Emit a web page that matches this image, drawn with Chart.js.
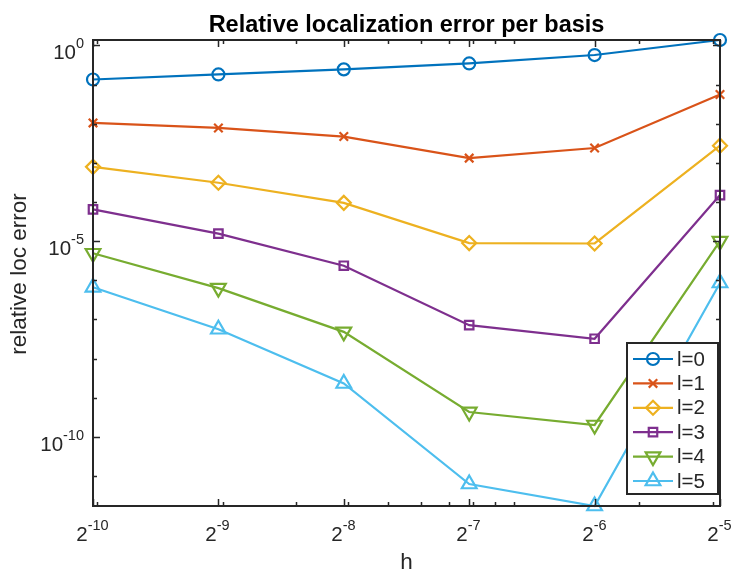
<!DOCTYPE html>
<html>
<head>
<meta charset="utf-8">
<script src="https://cdn.jsdelivr.net/npm/chart.js@4.4.1/dist/chart.umd.min.js"></script>
<style>
html, body { margin: 0; padding: 0; background: #fff; }
#wrap { width: 733px; height: 570px; position: relative; }
</style>
</head>
<body>
<div id="wrap"><canvas id="locChart"></canvas></div>
<script>
// x: mesh size h, y: relative localization error, one series per level l
const hValues = [0.0009765625, 0.001953125, 0.00390625, 0.0078125, 0.015625, 0.03125]
const hTickLabels = [['2', '-10'], ['2', '-9'], ['2', '-8'], ['2', '-7'], ['2', '-6'], ['2', '-5']]
const seriesNames = ['l=0', 'l=1', 'l=2', 'l=3', 'l=4', 'l=5']
const errL0 = [1.35e-1, 1.82e-1, 2.45e-1, 3.47e-1, 5.7e-1, 1.38]
const errL1 = [1.05e-2, 7.8e-3, 4.7e-3, 1.32e-3, 2.4e-3, 5.6e-2]
const errL2 = [7.9e-4, 3.1e-4, 9.5e-5, 8.9e-6, 8.7e-6, 2.75e-3]
const errL3 = [6.5e-5, 1.55e-5, 2.35e-6, 7.1e-8, 3.2e-8, 1.5e-4]
const errL4 = [4.9e-6, 6.3e-7, 4.8e-8, 4.3e-10, 2.0e-10, 1.0e-5]
const errL5 = [6.6e-7, 5.6e-8, 2.3e-9, 6.2e-12, 1.7e-12, 8.5e-7]
const yLabeledExponents = [0, -5, -10]

const FONT = "'Liberation Sans', Arial, Helvetica, sans-serif"
const AXIS_COLOR = '#262626'
const colors = ['#0072BD', '#D95319', '#EDB120', '#7E2F8E', '#77AC30', '#4DBEEE']
const markers = [
    {style: 'circle', radius: 6, rotation: 0},
    {style: 'crossRot', radius: 6, rotation: 0},
    {style: 'rectRot', radius: 7, rotation: 0},
    {style: 'rect', radius: 6, rotation: 0},
    {style: 'triangle', radius: 8.5, rotation: 180},
    {style: 'triangle', radius: 8.5, rotation: 0}
]
const allSeries = [errL0, errL1, errL2, errL3, errL4, errL5]
const allValues = [].concat(...allSeries)

const datasets = allSeries.map((vals, i) => ({
    label: seriesNames[i],
    data: vals.map((v, j) => ({x: hValues[j], y: v})),
    borderColor: colors[i],
    backgroundColor: colors[i],
    borderWidth: 2.2,
    pointStyle: markers[i].style,
    pointRadius: markers[i].radius,
    pointRotation: markers[i].rotation,
    pointBorderWidth: 2.2,
    pointBackgroundColor: 'rgba(0,0,0,0)',
    pointBorderColor: colors[i],
    tension: 0,
    clip: false
}))

function drawPower(ctx, base, exp, x, baseline, align) {
    ctx.font = '20.5px ' + FONT
    const wb = ctx.measureText(base).width
    ctx.font = '14.5px ' + FONT
    const we = ctx.measureText(exp).width
    const left = align === 'center' ? x - (wb + we) / 2 : x - (wb + we)
    ctx.textAlign = 'left'
    ctx.textBaseline = 'alphabetic'
    ctx.font = '20.5px ' + FONT
    ctx.fillText(base, left, baseline)
    ctx.font = '14.5px ' + FONT
    ctx.fillText(exp, left + wb, baseline - 11)
}

// MATLAB-like box, inward ticks, power labels, titles and legend
const matlabAxes = {
    id: 'matlabAxes',
    afterDraw(chart) {
        const ctx = chart.ctx
        const a = chart.chartArea
        const xs = chart.scales.x
        const ys = chart.scales.y
        ctx.save()
        ctx.strokeStyle = AXIS_COLOR
        ctx.fillStyle = AXIS_COLOR
        ctx.lineWidth = 2
        ctx.strokeRect(a.left, a.top, a.right - a.left, a.bottom - a.top)

        // x minor ticks at log10 positions
        ctx.lineWidth = 1.5
        const lo = Math.floor(Math.log10(xs.min)), hi = Math.ceil(Math.log10(xs.max))
        for (let k = lo; k <= hi; k++) {
            for (let m = 1; m <= 9; m++) {
                const v = m * Math.pow(10, k)
                if (v < xs.min || v > xs.max) continue
                const px = Math.round(xs.getPixelForValue(v)) + 0.5
                ctx.beginPath()
                ctx.moveTo(px, a.bottom); ctx.lineTo(px, a.bottom - 4)
                ctx.moveTo(px, a.top); ctx.lineTo(px, a.top + 4)
                ctx.stroke()
            }
        }
        // x major ticks and labels
        hValues.forEach((v, i) => {
            const px = Math.round(xs.getPixelForValue(v)) + 0.5
            ctx.beginPath()
            ctx.moveTo(px, a.bottom); ctx.lineTo(px, a.bottom - 7)
            ctx.moveTo(px, a.top); ctx.lineTo(px, a.top + 7)
            ctx.stroke()
            drawPower(ctx, hTickLabels[i][0], hTickLabels[i][1], px - 1, a.bottom + 35, 'center')
        })

        // y ticks at each decade, labels every five
        const ylo = Math.ceil(Math.log10(ys.min)), yhi = Math.floor(Math.log10(ys.max))
        for (let e = ylo; e <= yhi; e++) {
            const py = Math.round(ys.getPixelForValue(Math.pow(10, e))) + 0.5
            const len = yLabeledExponents.includes(e) ? 7 : 4
            ctx.beginPath()
            ctx.moveTo(a.left, py); ctx.lineTo(a.left + len, py)
            ctx.moveTo(a.right, py); ctx.lineTo(a.right - len, py)
            ctx.stroke()
            if (yLabeledExponents.includes(e)) {
                drawPower(ctx, '10', String(e), a.left - 9, py + 13, 'right')
            }
        }

        // title and axis labels
        ctx.fillStyle = '#000'
        ctx.textAlign = 'center'
        ctx.textBaseline = 'alphabetic'
        ctx.font = 'bold 23.5px ' + FONT
        ctx.fillText('Relative localization error per basis', (a.left + a.right) / 2, 32)
        ctx.fillStyle = AXIS_COLOR
        ctx.font = '22.5px ' + FONT
        ctx.fillText('h', (a.left + a.right) / 2, 569)
        ctx.save()
        ctx.translate(26, (a.top + a.bottom) / 2 + 1)
        ctx.rotate(-Math.PI / 2)
        ctx.fillText('relative loc error', 0, 0)
        ctx.restore()

        // legend box
        const lx = 627, ly = 343, lw = 91, lh = 151
        ctx.fillStyle = '#fff'
        ctx.fillRect(lx, ly, lw, lh)
        ctx.strokeStyle = AXIS_COLOR
        ctx.lineWidth = 2
        ctx.strokeRect(lx, ly, lw, lh)
        chart.data.datasets.forEach((ds, i) => {
            const yy = ly + 16 + i * 24.4
            ctx.strokeStyle = ds.borderColor
            ctx.lineWidth = 2.2
            ctx.beginPath()
            ctx.moveTo(lx + 6, yy); ctx.lineTo(lx + 46, yy)
            ctx.stroke()
            ctx.fillStyle = 'rgba(0,0,0,0)'
            Chart.helpers.drawPoint(ctx, {
                pointStyle: ds.pointStyle, radius: ds.pointRadius,
                rotation: ds.pointRotation, borderWidth: 2.2
            }, lx + 26, yy)
            ctx.fillStyle = AXIS_COLOR
            ctx.font = '20.5px ' + FONT
            ctx.textAlign = 'left'
            ctx.textBaseline = 'middle'
            ctx.fillText(ds.label, lx + 50, yy + 1)
        })
        ctx.restore()
    }
}

new Chart(document.getElementById('locChart'), {
    type: 'line',
    data: {datasets: datasets},
    options: {
        responsive: true,
        maintainAspectRatio: false,
        animation: false,
        devicePixelRatio: 1,
        layout: {padding: {left: 93, right: 13, top: 40, bottom: 64}},
        plugins: {legend: {display: false}, title: {display: false}, tooltip: {enabled: false}},
        scales: {
            x: {
                type: 'logarithmic',
                min: hValues[0],
                max: hValues[hValues.length - 1],
                grid: {display: false},
                border: {display: false},
                ticks: {display: false},
                afterFit: s => { s.height = 0 }
            },
            y: {
                type: 'logarithmic',
                min: Math.min(...allValues),
                max: Math.max(...allValues),
                grid: {display: false},
                border: {display: false},
                ticks: {display: false},
                afterFit: s => { s.width = 0 }
            }
        }
    },
    plugins: [matlabAxes]
})
</script>
</body>
</html>
